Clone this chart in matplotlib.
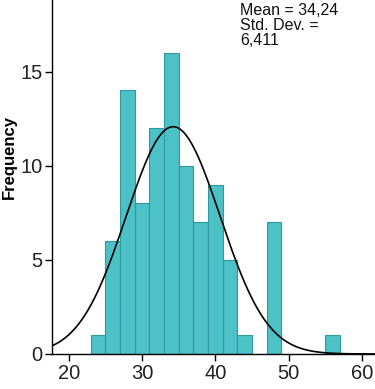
import numpy as np
import matplotlib.pyplot as plt

plt.rcParams['font.family'] = ['Liberation Sans', 'DejaVu Sans']

# histogram bins (left edges, width 2) and counts
bin_left = [23, 25, 27, 29, 31, 33, 35, 37, 39, 41, 43, 45, 47, 49, 51, 53, 55]
counts = [1, 6, 14, 8, 12, 16, 10, 7, 9, 5, 1, 0, 7, 0, 0, 0, 1]
bin_width = 2
mean = 34.24
std = 6.411
n = sum(counts)

fig = plt.figure(figsize=(3.75, 3.89), dpi=100)
ax = fig.add_axes([0.1387, 0.09, 0.8613, 0.91])

ax.bar(bin_left, counts, width=bin_width, align='edge',
       color='#4CC1C6', edgecolor='#2E9AA0', linewidth=0.8)

# fitted normal curve
xs = np.linspace(17.7, 61.8, 400)
ys = n * bin_width / (std * np.sqrt(2 * np.pi)) * np.exp(-0.5 * ((xs - mean) / std) ** 2)
ax.plot(xs, ys, color='black', linewidth=1.2)

ax.set_xlim(17.7, 61.8)
ax.set_ylim(0, 18.8)
ax.set_xticks([20, 30, 40, 50, 60])
ax.set_yticks([0, 5, 10, 15])
ax.tick_params(axis='both', labelsize=14.5, length=5, width=1, colors='black',
               labelcolor='#222222', pad=2)
for s in ['top', 'right']:
    ax.spines[s].set_visible(False)
for s in ['left', 'bottom']:
    ax.spines[s].set_linewidth(1)

ax.set_ylabel('Frequency', fontsize=12, fontweight='bold')
ax.yaxis.label.set_va('center')
ax.yaxis.set_label_coords(-0.131, 0.556)

ax.text(0.582, 0.992, 'Mean = 34,24\nStd. Dev. =\n6,411', transform=ax.transAxes,
        ha='left', va='top', fontsize=11.5, linespacing=1.0, color='#111111')

fig.savefig('out.png', dpi=100)
